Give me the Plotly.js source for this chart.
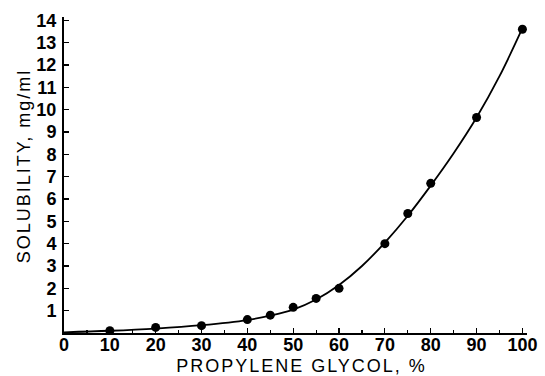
<!DOCTYPE html>
<html>
<head>
<meta charset="utf-8">
<script src="https://cdn.plot.ly/plotly-3.0.1.min.js"></script>
<style>
html,body{margin:0;padding:0;background:#fff;}
#chart{width:545px;height:376px;}
.xtitle, .ytitle{letter-spacing:2px;}
.g-xtitle{transform:translate(6px,2px);}
.g-ytitle{transform:translate(4px,-9px);}
</style>
</head>
<body>
<div id="chart"></div>
<script>
// Measured points: propylene glycol (%) vs solubility (mg/ml)
const glycolPct = [10, 20, 30, 40, 45, 50, 55, 60, 70, 75, 80, 90, 100];
const solubility = [0.1, 0.25, 0.33, 0.6, 0.8, 1.15, 1.55, 2.0, 4.0, 5.35, 6.7, 9.65, 13.6];
// Smooth fitted curve
const curvePct = [0, 10, 20, 30, 40, 45, 50, 55, 60, 65, 70, 75, 80, 85, 90, 95, 100];
const curveSol = [0.03, 0.1, 0.2, 0.35, 0.58, 0.78, 1.05, 1.5, 2.15, 3.0, 4.05, 5.25, 6.6, 8.05, 9.65, 11.5, 13.65];
const xTicks = [0, 10, 20, 30, 40, 50, 60, 70, 80, 90, 100];
const yTicks = [1, 2, 3, 4, 5, 6, 7, 8, 9, 10, 11, 12, 13, 14];

const tickFont = {family: 'Liberation Sans, Arial, sans-serif', size: 18, color: '#000', weight: 'bold'};
const titleFont = {family: 'Liberation Sans, Arial, sans-serif', size: 18, color: '#000'};

const traces = [
  {x: curvePct, y: curveSol, mode: 'lines', line: {color: '#000', width: 1.8, shape: 'spline', smoothing: 1}, hoverinfo: 'skip'},
  {x: glycolPct, y: solubility, mode: 'markers', marker: {color: '#000', size: 9}}
];

const layout = {
  width: 545, height: 376,
  margin: {l: 64, r: 18, t: 17, b: 43},
  paper_bgcolor: '#fff', plot_bgcolor: '#fff',
  showlegend: false,
  xaxis: {
    range: [0, 101], tickvals: xTicks, ticktext: xTicks.map(String),
    ticks: 'inside', ticklen: 5, tickwidth: 1.2, tickcolor: '#000',
    minor: {dtick: 5, ticks: 'inside', ticklen: 3, tickcolor: '#000', showgrid: false},
    showline: true, linecolor: '#000', linewidth: 2, showgrid: false, zeroline: false,
    tickfont: tickFont, ticklabelstandoff: -6,
    title: {text: 'PROPYLENE GLYCOL, %', font: titleFont, standoff: 4}
  },
  yaxis: {
    range: [0, 14.15], tickvals: yTicks, ticktext: yTicks.map(String),
    ticks: 'inside', ticklen: 5, tickwidth: 1.2, tickcolor: '#000',
    showline: true, linecolor: '#000', linewidth: 2, showgrid: false, zeroline: false,
    tickfont: tickFont, ticklabelstandoff: 2,
    title: {text: 'SOLUBILITY, mg/ml', font: titleFont, standoff: 5}
  }
};

Plotly.newPlot('chart', traces, layout, {staticPlot: true});
</script>
</body>
</html>
